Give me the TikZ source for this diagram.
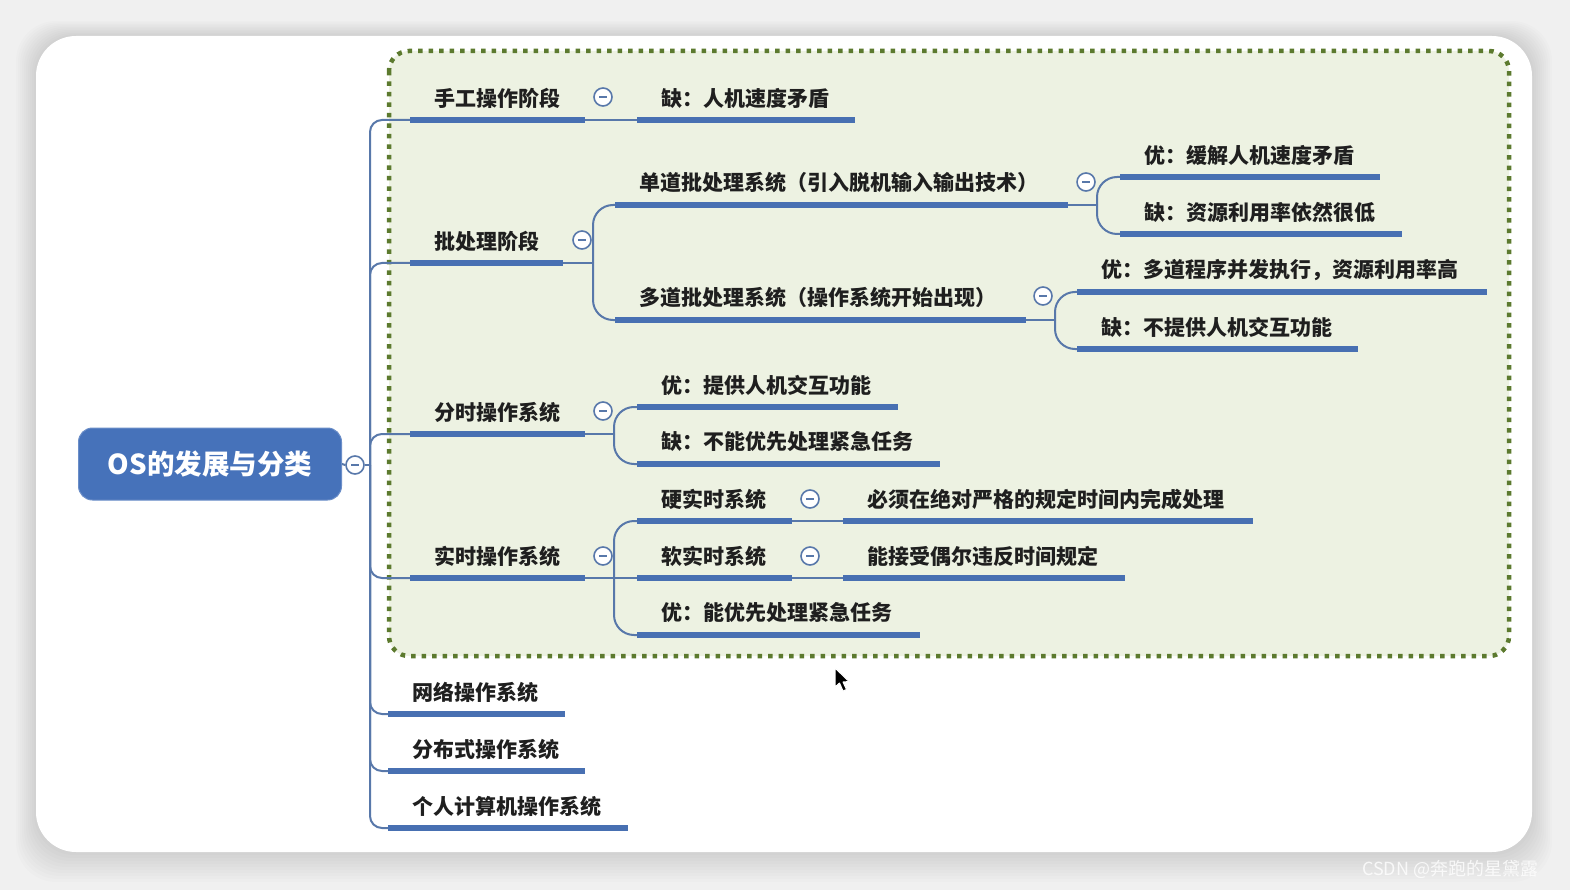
\documentclass[tikz,border=0pt]{standalone}
\usepackage{fontspec}
\newfontfamily\cjk{Noto Sans CJK SC}
\usetikzlibrary{calc}
\definecolor{ublue}{RGB}{72,112,178}
\definecolor{cblue}{RGB}{88,120,170}
\definecolor{rootblue}{RGB}{70,114,186}
\definecolor{boxgreen}{RGB}{92,122,46}
\definecolor{boxfill}{RGB}{237,242,226}
\definecolor{bggray}{RGB}{240,240,240}
\newcommand\mmtopic[5]{%
  \coordinate (#1-s) at (#2,#4);
  \coordinate (#1-e) at (#3,#4);
  \node[lbl] (#1) at (#2+24,#4-22) {#5};
  \draw[uline] (#1-s) -- (#1-e);}
\begin{document}
\begin{tikzpicture}[x=1pt,y=-1pt,
  lbl/.style={anchor=west,inner sep=0pt,font=\cjk\bfseries\fontsize{21}{25}\selectfont,text=black!88},
  uline/.style={line width=5.5pt,draw=ublue},
  conn/.style={line width=2pt,draw=cblue,rounded corners=12pt},
  bconn/.style={line width=2pt,draw=cblue,rounded corners=20pt},
  coll/.style={circle,draw=cblue,fill=white,line width=1.6pt,minimum size=18pt,inner sep=0pt,
    path picture={\draw[line width=1.6pt,cblue] ([xshift=-4pt]path picture bounding box.center) -- ([xshift=4pt]path picture bounding box.center);}},
  root/.style={rectangle,rounded corners=14pt,fill=rootblue,draw=rootblue!80!white,line width=1pt,
    minimum width=263pt,minimum height=72pt,text=white,font=\cjk\bfseries\fontsize{27.5}{32}\selectfont}
]
\useasboundingbox (0,0) rectangle (1570,890);
% background and card
\fill[bggray] (0,0) rectangle (1570,890);
\foreach \i in {1,...,10}{
  \fill[black,opacity=0.012,rounded corners=40pt] (36-\i*2,36-\i*1.5) rectangle (1532+\i*2,852+\i*3);
}
\fill[white,rounded corners=40pt] (36,36) rectangle (1532,852);
\node[font=\fontsize{18}{20}\selectfont\cjk,text=white,opacity=0.8,anchor=west,inner sep=0pt] (wm) at (1362,869) {CSDN @奔跑的星黛露};
% dotted group box
\draw[boxgreen,fill=boxfill,line width=4.5pt,dash pattern=on 4.5pt off 6pt,rounded corners=20pt] (389,51) rectangle (1509,656);

% root
\node[root] (root) at (210,464) {OS的发展与分类};
\node[coll] (rc) at (355,465) {};
\coordinate (sp) at (370,465);
\draw[conn] (root.east) -- (rc.west);
\draw[conn] (rc.east) -- (sp);

% level 1
\mmtopic{a1}{410}{585}{120}{手工操作阶段}
\mmtopic{a2}{410}{563}{263}{批处理阶段}
\mmtopic{a3}{410}{585}{434}{分时操作系统}
\mmtopic{a4}{410}{585}{578}{实时操作系统}
\mmtopic{a5}{388}{565}{714}{网络操作系统}
\mmtopic{a6}{388}{585}{771}{分布式操作系统}
\mmtopic{a7}{388}{628}{828}{个人计算机操作系统}
\foreach \n in {a1,a2,a3,a4,a5,a6,a7}{\draw[conn] (sp) |- (\n-s);}

% 手工
\mmtopic{b1}{637}{855}{120}{缺：人机速度矛盾}
\node[coll] (a1c) at (603,97) {};
\draw[conn] (a1-e) -- (b1-s);

% 批处理
\node[coll] (a2c) at (582,240) {};
\coordinate (a2b) at (593,263);
\mmtopic{b21}{615}{1068}{205}{单道批处理系统（引入脱机输入输出技术）}
\mmtopic{b22}{615}{1026}{320}{多道批处理系统（操作系统开始出现）}
\draw[conn] (a2-e) -- (a2b);
\draw[bconn] (a2b) |- (b21-s);
\draw[bconn] (a2b) |- (b22-s);

\node[coll] (b21c) at (1086,182) {};
\coordinate (b21b) at (1097,205);
\mmtopic{c211}{1120}{1380}{177}{优：缓解人机速度矛盾}
\mmtopic{c212}{1120}{1402}{234}{缺：资源利用率依然很低}
\draw[conn] (b21-e) -- (b21b);
\draw[bconn] (b21b) |- (c211-s);
\draw[bconn] (b21b) |- (c212-s);

\node[coll] (b22c) at (1043,296) {};
\coordinate (b22b) at (1055,320);
\mmtopic{c221}{1077}{1487}{292}{优：多道程序并发执行，资源利用率高}
\mmtopic{c222}{1077}{1358}{349}{缺：不提供人机交互功能}
\draw[conn] (b22-e) -- (b22b);
\draw[bconn] (b22b) |- (c221-s);
\draw[bconn] (b22b) |- (c222-s);

% 分时
\node[coll] (a3c) at (603,411) {};
\coordinate (a3b) at (614,434);
\mmtopic{b31}{637}{898}{407}{优：提供人机交互功能}
\mmtopic{b32}{637}{940}{464}{缺：不能优先处理紧急任务}
\draw[conn] (a3-e) -- (a3b);
\draw[bconn] (a3b) |- (b31-s);
\draw[bconn] (a3b) |- (b32-s);

% 实时
\node[coll] (a4c) at (603,556) {};
\coordinate (a4b) at (614,578);
\mmtopic{b41}{637}{792}{521}{硬实时系统}
\mmtopic{b42}{637}{792}{578}{软实时系统}
\mmtopic{b43}{637}{920}{635}{优：能优先处理紧急任务}
\draw[conn] (a4-e) -- (a4b) -- (b42-s);
\draw[bconn] (a4b) |- (b41-s);
\draw[bconn] (a4b) |- (b43-s);

\node[coll] (b41c) at (810,499) {};
\mmtopic{c41}{843}{1253}{521}{必须在绝对严格的规定时间内完成处理}
\draw[conn] (b41-e) -- (c41-s);
\node[coll] (b42c) at (810,556) {};
\mmtopic{c42}{843}{1125}{578}{能接受偶尔违反时间规定}
\draw[conn] (b42-e) -- (c42-s);

% mouse cursor
\filldraw[fill=black,draw=white,line width=1pt,line join=round]
  (835,668) -- (835,687) -- (839.5,683) -- (843,691) -- (846.5,689.5) -- (843,682) -- (849,681.5) -- cycle;
\end{tikzpicture}
\end{document}
